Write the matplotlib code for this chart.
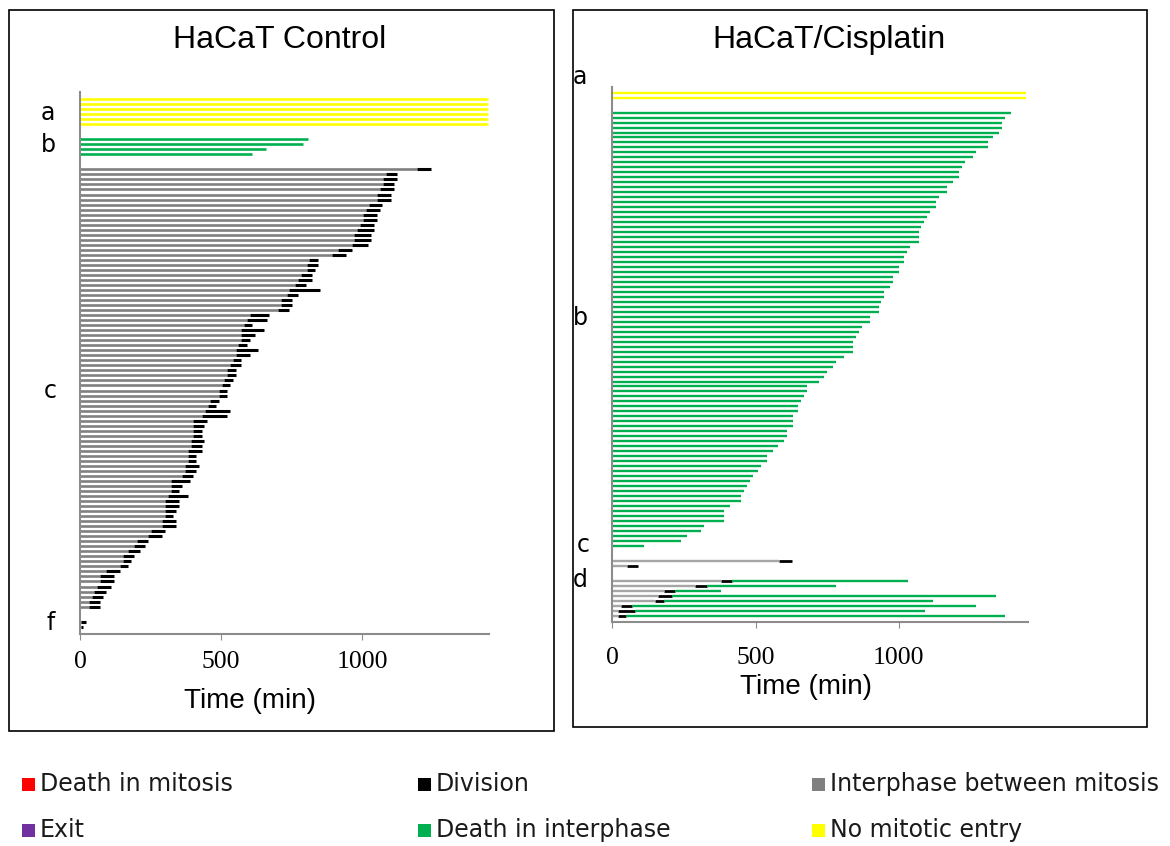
import matplotlib
matplotlib.use("Agg")
import matplotlib.pyplot as plt
from matplotlib.patches import Rectangle

# colours used for each cell fate
YELLOW = "#FFFF00"
GREEN = "#00B050"
GRAY = "#808080"
LIGHT_GRAY = "#A6A6A6"
BLACK = "#000000"
RED = "#FF0000"
PURPLE = "#7030A0"

# ---- HaCaT control (minutes) ----
ctrl_no_entry = [1445, 1445, 1445, 1445, 1445, 1445]
ctrl_death_interphase = [810, 790, 660, 610]
# interphase end (= start of division) and division end, one row per cell
ctrl_interphase = [1194, 1085, 1074, 1074, 1064, 1053, 1053, 1025, 1014, 1004, 1004, 993,
                   983, 973, 973, 963, 913, 894, 812, 803, 803, 783, 773, 762, 742, 733,
                   713, 713, 702, 602, 592, 582, 572, 572, 572, 561, 552, 552, 541, 532,
                   521, 521, 512, 502, 492, 492, 462, 453, 442, 433, 402, 402, 402, 402,
                   392, 392, 382, 382, 382, 372, 372, 362, 322, 322, 322, 312, 301, 301,
                   301, 301, 291, 291, 252, 241, 201, 191, 171, 151, 151, 142, 92, 71,
                   71, 61, 51, 41, 31, 31]
ctrl_division = [1243, 1123, 1123, 1112, 1112, 1102, 1102, 1072, 1063, 1052, 1052, 1041,
                 1041, 1032, 1032, 1022, 963, 942, 843, 843, 832, 823, 823, 801, 852, 772,
                 752, 752, 741, 671, 662, 611, 651, 622, 602, 592, 631, 602, 572, 572,
                 552, 552, 541, 532, 521, 521, 492, 482, 532, 521, 452, 441, 431, 431,
                 441, 431, 431, 411, 411, 421, 411, 402, 391, 360, 351, 382, 351, 351,
                 341, 329, 341, 341, 301, 291, 241, 230, 212, 191, 181, 170, 141, 121,
                 121, 110, 91, 80, 71, 71]
ctrl_f_interphase = [3, 3]
ctrl_f_division = [20, 10]

# ---- HaCaT / cisplatin (minutes) ----
cis_no_entry = [1445, 1445]
cis_death_interphase = [1391, 1370, 1360, 1360, 1349, 1328, 1310, 1310, 1269, 1258, 1230,
                        1220, 1209, 1209, 1190, 1170, 1170, 1140, 1129, 1129, 1109, 1099,
                        1090, 1079, 1070, 1070, 1070, 1040, 1030, 1020, 1020, 1000, 1000,
                        979, 979, 970, 950, 950, 939, 930, 930, 900, 900, 871, 860, 850,
                        841, 841, 841, 810, 780, 771, 750, 740, 721, 680, 680, 669, 660,
                        650, 650, 630, 630, 630, 610, 610, 601, 580, 560, 540, 540, 520,
                        510, 490, 481, 470, 460, 449, 449, 411, 390, 390, 390, 320, 310,
                        260, 240, 109]
cis_c_interphase = [581, 50]
cis_c_division = [629, 90]
cis_d_interphase = [381, 290, 180, 161, 150, 30, 20, 20]
cis_d_division = [418, 329, 220, 208, 180, 70, 79, 49]
cis_d_death = [1031, 780, 380, 1340, 1119, 1269, 1091, 1370]

W, H = 1170, 846


def fx(px):
    return px / W


def fy(py):
    return 1 - py / H


def rows(start, n):
    return list(range(start, start + n))


def style_axis(ax, ylim, pad):
    ax.set_xlim(0, 1450)
    ax.set_ylim(*ylim)
    for side in ["top", "right"]:
        ax.spines[side].set_visible(False)
    for side in ["left", "bottom"]:
        ax.spines[side].set_color("#8c8c8c")
        ax.spines[side].set_linewidth(1.5)
    ax.set_yticks([])
    ax.set_xticks([0, 500, 1000])
    ax.tick_params(axis="x", direction="out", length=4, color="#8c8c8c",
                   labelsize=18.5, pad=pad)
    for lab in ax.get_xticklabels():
        lab.set_family("Liberation Serif")
    ax.patch.set_alpha(0)


fig = plt.figure(figsize=(W / 100, H / 100), dpi=100)

# panel frames
fig.add_artist(Rectangle((fx(9), fy(731)), fx(545), 721 / H, transform=fig.transFigure,
                         fill=False, edgecolor="black", linewidth=1.2))
fig.add_artist(Rectangle((fx(573), fy(727)), fx(574), 717 / H, transform=fig.transFigure,
                         fill=False, edgecolor="black", linewidth=1.2))

# ---------- left panel ----------
ax1 = fig.add_axes([fx(80), fy(634), fx(409), 542 / H])
lw = 1.9
y_a = rows(0, len(ctrl_no_entry))
y_b = rows(8, len(ctrl_death_interphase))
y_c = rows(14, len(ctrl_interphase))
y_f = rows(14 + len(ctrl_interphase) + 2, len(ctrl_f_interphase))
ax1.hlines(y_a, 0, ctrl_no_entry, colors=YELLOW, linewidth=lw)
ax1.hlines(y_b, 0, ctrl_death_interphase, colors=GREEN, linewidth=lw)
ax1.hlines(y_c, 0, ctrl_interphase, colors=GRAY, linewidth=lw)
ax1.hlines(y_c, ctrl_interphase, ctrl_division, colors=BLACK, linewidth=2.2)
ax1.hlines(y_f, 0, ctrl_f_interphase, colors=GRAY, linewidth=lw)
ax1.hlines(y_f, ctrl_f_interphase, ctrl_f_division, colors=BLACK, linewidth=2.2)
style_axis(ax1, (106.45, -1.4), pad=8.5)

# ---------- right panel ----------
ax2 = fig.add_axes([fx(612.3), fy(622.3), fx(415.3), (622.3 - 86.7) / H])
lw2 = 1.7
y_a2 = rows(0, len(cis_no_entry))
y_b2 = rows(4, len(cis_death_interphase))
y_c2 = rows(4 + len(cis_death_interphase) + 2, len(cis_c_interphase))
y_d2 = rows(y_c2[-1] + 3, len(cis_d_interphase))
ax2.hlines(y_a2, 0, cis_no_entry, colors=YELLOW, linewidth=lw2)
ax2.hlines(y_b2, 0, cis_death_interphase, colors=GREEN, linewidth=lw2)
ax2.hlines(y_c2, 0, cis_c_interphase, colors=LIGHT_GRAY, linewidth=lw2)
ax2.hlines(y_c2, cis_c_interphase, cis_c_division, colors=BLACK, linewidth=2.0)
ax2.hlines(y_d2, 0, cis_d_interphase, colors=LIGHT_GRAY, linewidth=lw2)
ax2.hlines(y_d2, cis_d_interphase, cis_d_division, colors=BLACK, linewidth=2.0)
ax2.hlines(y_d2, cis_d_division, cis_d_death, colors=GREEN, linewidth=lw2)
style_axis(ax2, (106.35, -1.2), pad=14)

# titles and axis titles
fig.text(fx(280), fy(40), "HaCaT Control", ha="center", va="center", fontsize=23,
         family="Liberation Sans")
fig.text(fx(829), fy(40), "HaCaT/Cisplatin", ha="center", va="center", fontsize=23,
         family="Liberation Sans")
fig.text(fx(250), fy(701), "Time (min)", ha="center", va="center", fontsize=20,
         family="Liberation Sans")
fig.text(fx(806), fy(687), "Time (min)", ha="center", va="center", fontsize=20,
         family="Liberation Sans")

# group letters
for txt, px, py in [("a", 48, 113), ("b", 48, 145), ("c", 50, 391), ("f", 51, 623),
                    ("a", 580, 77), ("b", 580, 318), ("c", 583, 545), ("d", 580, 580)]:
    fig.text(fx(px), fy(py), txt, ha="center", va="center", fontsize=17,
             family="DejaVu Sans")

# legend
legend_items = [
    ("Death in mitosis", RED, 22, 784), ("Division", BLACK, 418, 784),
    ("Interphase between mitosis", GRAY, 812, 784),
    ("Exit", PURPLE, 22, 830), ("Death in interphase", GREEN, 418, 830),
    ("No mitotic entry", YELLOW, 812, 830),
]
for label, col, px, py in legend_items:
    fig.add_artist(Rectangle((fx(px), fy(py + 7)), fx(13), 13 / H,
                             transform=fig.transFigure, facecolor=col, edgecolor="none"))
    fig.text(fx(px + 18), fy(py), label, ha="left", va="center", fontsize=17,
             family="DejaVu Sans", color="#1a1a1a")

fig.savefig("out.png", dpi=100)
